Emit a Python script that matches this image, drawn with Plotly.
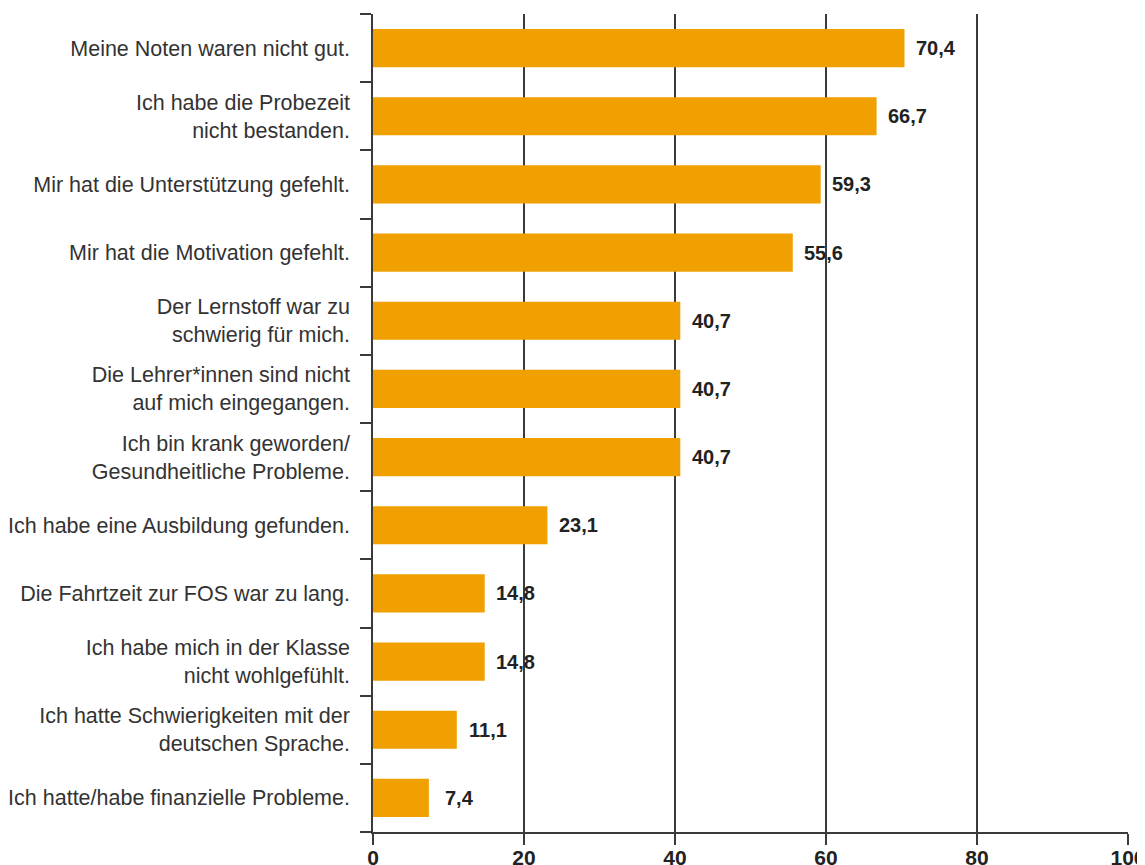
import plotly.graph_objects as go

categories = [
    "Meine Noten waren nicht gut.",
    "Ich habe die Probezeit<br>nicht bestanden.",
    "Mir hat die Unterstützung gefehlt.",
    "Mir hat die Motivation gefehlt.",
    "Der Lernstoff war zu<br>schwierig für mich.",
    "Die Lehrer*innen sind nicht<br>auf mich eingegangen.",
    "Ich bin krank geworden/<br>Gesundheitliche Probleme.",
    "Ich habe eine Ausbildung gefunden.",
    "Die Fahrtzeit zur FOS war zu lang.",
    "Ich habe mich in der Klasse<br>nicht wohlgefühlt.",
    "Ich hatte Schwierigkeiten mit der<br>deutschen Sprache.",
    "Ich hatte/habe finanzielle Probleme.",
]
values = [70.4, 66.7, 59.3, 55.6, 40.7, 40.7, 40.7, 23.1, 14.8, 14.8, 11.1, 7.4]
x_ticks = [0, 20, 40, 60, 80, 100]

FONT = "Liberation Sans, Arial, sans-serif"
BAR = "#F0A000"
LINE = "#3a3a3a"

fig = go.Figure()
fig.add_trace(go.Bar(
    y=categories, x=values, orientation="h",
    marker=dict(color=BAR, line=dict(width=0)),
    width=0.56, hoverinfo="skip",
))

for c, v in zip(categories, values):
    fig.add_annotation(
        x=v, y=c, xref="x", yref="y",
        text="<b>" + f"{v:.1f}".replace(".", ",") + "</b>",
        showarrow=False, xanchor="center", xshift=31,
        font=dict(family=FONT, size=20, color="#222222"),
    )

fig.update_layout(
    width=1145, height=865,
    margin=dict(l=365, r=25, t=6, b=41),
    paper_bgcolor="white", plot_bgcolor="white",
    showlegend=False,
    font=dict(family=FONT, color="#333333"),
)
fig.update_xaxes(
    range=[0, 100], tickvals=x_ticks,
    ticktext=[f"<b>{t}</b>" for t in x_ticks],
    tickfont=dict(family=FONT, size=21, color="#222222"),
    showgrid=True, gridcolor=LINE, gridwidth=1.5,
    showline=True, linecolor=LINE, linewidth=1.5,
    ticks="outside", ticklen=11, tickwidth=1.5, tickcolor=LINE,
    zeroline=False, automargin=False, fixedrange=True,
    ticklabelstandoff=-5,
)
fig.update_yaxes(
    type="category", categoryorder="array", categoryarray=categories[::-1],
    tickson="boundaries", ticks="outside", ticklen=11, tickwidth=1.5, tickcolor=LINE,
    showline=True, linecolor=LINE, linewidth=1.5,
    showgrid=False, automargin=False,
    tickfont=dict(family=FONT, size=21.5, color="#333333"),
    ticklabelstandoff=17,
)

fig.write_html("out.html")
